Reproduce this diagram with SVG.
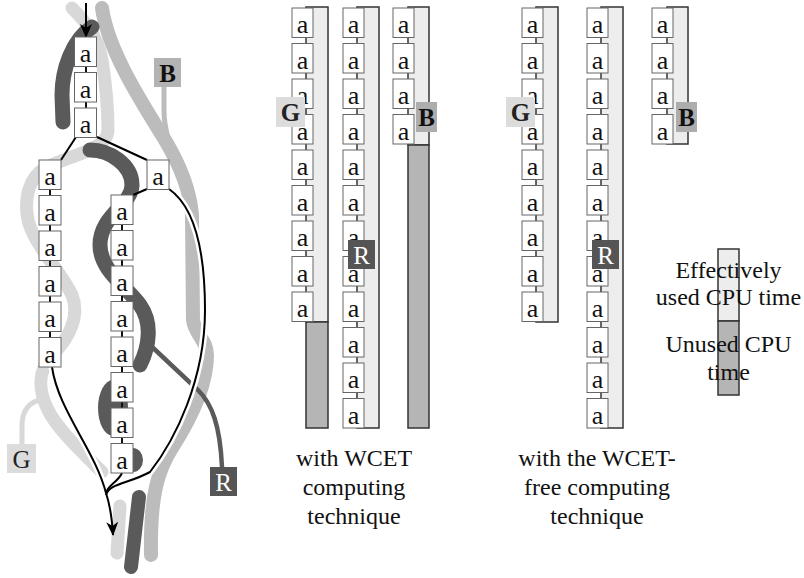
<svg xmlns="http://www.w3.org/2000/svg" width="804" height="578" viewBox="0 0 804 578">
<style>
.box{fill:#fff;stroke:#666;stroke-width:1}
.a{font-family:"Liberation Serif",serif;font-size:26px;text-anchor:middle;fill:#111}
.bar{fill:#ededed;stroke:#333;stroke-width:1.5}
.unused{fill:#b5b5b5;stroke:#333;stroke-width:1.5}
.tick{stroke:#111;stroke-width:2}
.bg{fill:none;stroke:#d8d8d8;stroke-width:13;stroke-linecap:round}
.bb{fill:none;stroke:#bcbcbc;stroke-width:14;stroke-linecap:round}
.br{fill:none;stroke:#5a5a5a;stroke-width:15;stroke-linecap:round}
.halo{fill:none;stroke:#fff;stroke-width:7}
.edge{fill:none;stroke:#000;stroke-width:2}
.lbl{font-family:"Liberation Serif",serif;font-size:25px;text-anchor:middle}
.cap{font-family:"Liberation Serif",serif;font-size:24px;text-anchor:middle;fill:#111}
</style>
<defs>
<marker id="ah" viewBox="0 0 14 14" markerWidth="14" markerHeight="14" refX="13" refY="7" orient="auto" markerUnits="userSpaceOnUse">
<path d="M0,1 L14,7 L0,13 L4,7 z" fill="#000"/>
</marker>
</defs>

<g id="threads">
<path class="bg" d="M72,8 C82,18 98,35 102,60 C106,85 108,110 108,130 C108,150 70,155 45,168 C28,178 24,200 28,220 C34,245 60,270 72,295 C80,315 70,338 52,355 C38,370 38,390 48,410 C58,430 82,452 102,472"/>
<path class="bg" d="M120,506 L117,553"/>
<path d="M22,445 L22,425 C22,410 30,402 40,400" fill="none" stroke="#d8d8d8" stroke-width="5"/>
<path class="bb" d="M102,8 C108,50 140,100 165,140 C180,165 190,190 192,215 L193,320 C195,335 207,340 207,355 C207,385 190,420 172,448 C158,470 150,495 151,555"/>
<path d="M164,87 L164,112 C164,122 166,130 168,138" fill="none" stroke="#bcbcbc" stroke-width="5"/>
<path class="br" d="M92,27 C72,40 62,70 62,95 L63,122"/>
<path class="br" d="M90,150 C110,150 132,165 132,185 C132,205 100,215 100,245 C100,270 125,285 140,305 C152,322 150,345 140,365"/>
<ellipse cx="113" cy="408" rx="15" ry="28" fill="#5a5a5a"/>
<ellipse cx="133" cy="460" rx="10" ry="12" fill="#5a5a5a"/>
<path class="br" style="stroke-width:14" d="M139,497 L131,567"/>
<path d="M150,345 L198,390 C212,404 220,425 222,467" fill="none" stroke="#5a5a5a" stroke-width="4.5"/>
</g>

<g id="connectors">
<path class="halo" d="M52,367 C58,410 95,450 106,493"/>
<path class="halo" d="M169,189 C192,205 205,245 205,310 C205,380 175,440 150,472 C128,484 110,483 106,495"/>
<path class="edge" d="M52,367 C58,410 95,450 106,493"/>
<path class="edge" d="M122,473 C118,482 108,485 106,493"/>
<path class="edge" d="M169,189 C192,205 205,245 205,310 C205,380 175,440 150,472 C128,484 110,483 106,495"/>
<path class="edge" d="M106,493 C110,505 112,518 113,535" marker-end="url(#ah)"/>
<path class="edge" d="M86,3 L86,37" marker-end="url(#ah)"/>
<path class="edge" d="M76,137 L61,160"/>
<path class="edge" d="M97,137 L147,160"/>
<path class="edge" d="M147,189 L133,195"/>
<path class="tick" d="M86,66 V73 M86,102 V108 M50,189 V196 M50,225 V231 M50,260 V267 M50,296 V302 M50,331 V338 M122,224 V231 M122,260 V266 M122,295 V302 M122,331 V337 M122,366 V373 M122,402 V408 M122,437 V444"/>
</g>

<g id="tree">
<g id="t1"><rect class="box" x="74.5" y="37" width="22" height="29.5"/><text class="a" x="85.5" y="62">a</text></g>
<g id="t2"><rect class="box" x="74.5" y="72.5" width="22" height="29.5"/><text class="a" x="85.5" y="97.5">a</text></g>
<g id="t3"><rect class="box" x="74.5" y="108" width="22" height="29.5"/><text class="a" x="85.5" y="133">a</text></g>
<g id="tl">
<rect class="box" x="39" y="160" width="22" height="29.5"/><text class="a" x="50" y="185">a</text>
<rect class="box" x="39" y="195.5" width="22" height="29.5"/><text class="a" x="50" y="220.5">a</text>
<rect class="box" x="39" y="231" width="22" height="29.5"/><text class="a" x="50" y="256">a</text>
<rect class="box" x="39" y="266.5" width="22" height="29.5"/><text class="a" x="50" y="291.5">a</text>
<rect class="box" x="39" y="302" width="22" height="29.5"/><text class="a" x="50" y="327">a</text>
<rect class="box" x="39" y="337.5" width="22" height="29.5"/><text class="a" x="50" y="362.5">a</text>
</g>
<g id="tr"><rect class="box" x="147" y="160" width="22" height="29.5"/><text class="a" x="158" y="185">a</text></g>
<g id="tm">
<rect class="box" x="111" y="195" width="22" height="29.5"/><text class="a" x="122" y="220">a</text>
<rect class="box" x="111" y="230.5" width="22" height="29.5"/><text class="a" x="122" y="255.5">a</text>
<rect class="box" x="111" y="266" width="22" height="29.5"/><text class="a" x="122" y="291">a</text>
<rect class="box" x="111" y="301.5" width="22" height="29.5"/><text class="a" x="122" y="326.5">a</text>
<rect class="box" x="111" y="337" width="22" height="29.5"/><text class="a" x="122" y="362">a</text>
<rect class="box" x="111" y="372.5" width="22" height="29.5"/><text class="a" x="122" y="397.5">a</text>
<rect class="box" x="111" y="408" width="22" height="29.5"/><text class="a" x="122" y="433">a</text>
<rect class="box" x="111" y="443.5" width="22" height="29.5"/><text class="a" x="122" y="468.5">a</text>
</g>
<g id="tB"><rect x="154" y="58" width="27" height="29" fill="#b3b3b3"/><text class="lbl" x="167.5" y="82" font-weight="bold" fill="#111">B</text></g>
<g id="tG"><rect x="7" y="444" width="29" height="29" fill="#dcdcdc"/><text class="lbl" x="21.5" y="468" fill="#222">G</text></g>
<g id="tR"><rect x="210" y="467" width="27" height="29" fill="#555"/><text class="lbl" x="223.5" y="491" fill="#fff">R</text></g>
</g>

<g id="wcet">
<g id="c1">
<rect class="bar" x="306" y="7" width="22" height="315"/>
<rect class="unused" x="306" y="322" width="22" height="106"/>
<rect class="box" x="292" y="8" width="21" height="29.5"/><text class="a" x="302.5" y="33">a</text>
<rect class="box" x="292" y="43.5" width="21" height="29.5"/><text class="a" x="302.5" y="68.5">a</text>
<rect class="box" x="292" y="79" width="21" height="29.5"/><text class="a" x="302.5" y="104">a</text>
<rect class="box" x="292" y="114.5" width="21" height="29.5"/><text class="a" x="302.5" y="139.5">a</text>
<rect class="box" x="292" y="150" width="21" height="29.5"/><text class="a" x="302.5" y="175">a</text>
<rect class="box" x="292" y="185.5" width="21" height="29.5"/><text class="a" x="302.5" y="210.5">a</text>
<rect class="box" x="292" y="221" width="21" height="29.5"/><text class="a" x="302.5" y="246">a</text>
<rect class="box" x="292" y="256.5" width="21" height="29.5"/><text class="a" x="302.5" y="281.5">a</text>
<rect class="box" x="292" y="292" width="21" height="29.5"/><text class="a" x="302.5" y="317">a</text>
<rect x="276" y="97" width="29" height="30" fill="#dcdcdc"/><text class="lbl" x="290.5" y="121" font-weight="bold" fill="#222">G</text>
</g>
<g id="c2">
<rect class="bar" x="357" y="7" width="22" height="421"/>
<rect class="box" x="343" y="8" width="21" height="29.5"/><text class="a" x="353.5" y="33">a</text>
<rect class="box" x="343" y="43.5" width="21" height="29.5"/><text class="a" x="353.5" y="68.5">a</text>
<rect class="box" x="343" y="79" width="21" height="29.5"/><text class="a" x="353.5" y="104">a</text>
<rect class="box" x="343" y="114.5" width="21" height="29.5"/><text class="a" x="353.5" y="139.5">a</text>
<rect class="box" x="343" y="150" width="21" height="29.5"/><text class="a" x="353.5" y="175">a</text>
<rect class="box" x="343" y="185.5" width="21" height="29.5"/><text class="a" x="353.5" y="210.5">a</text>
<rect class="box" x="343" y="221" width="21" height="29.5"/><text class="a" x="353.5" y="246">a</text>
<rect class="box" x="343" y="256.5" width="21" height="29.5"/><text class="a" x="353.5" y="281.5">a</text>
<rect class="box" x="343" y="292" width="21" height="29.5"/><text class="a" x="353.5" y="317">a</text>
<rect class="box" x="343" y="327.5" width="21" height="29.5"/><text class="a" x="353.5" y="352.5">a</text>
<rect class="box" x="343" y="363" width="21" height="29.5"/><text class="a" x="353.5" y="388">a</text>
<rect class="box" x="343" y="398.5" width="21" height="29.5"/><text class="a" x="353.5" y="423.5">a</text>
<rect x="348" y="240" width="27" height="29" fill="#555"/><text class="lbl" x="361.5" y="264" fill="#fff">R</text>
</g>
<g id="c3">
<rect class="bar" x="408" y="7" width="21" height="138"/>
<rect class="unused" x="408" y="145" width="21" height="283"/>
<rect class="box" x="393" y="8" width="21" height="29.5"/><text class="a" x="403.5" y="33">a</text>
<rect class="box" x="393" y="43.5" width="21" height="29.5"/><text class="a" x="403.5" y="68.5">a</text>
<rect class="box" x="393" y="79" width="21" height="29.5"/><text class="a" x="403.5" y="104">a</text>
<rect class="box" x="393" y="114.5" width="21" height="29.5"/><text class="a" x="403.5" y="139.5">a</text>
<rect x="416" y="102" width="21" height="30" fill="#adadad"/><text class="lbl" x="426.5" y="126" font-weight="bold" fill="#111">B</text>
</g>
<text class="cap" x="354" y="466">with WCET</text>
<text class="cap" x="354" y="495">computing</text>
<text class="cap" x="354" y="524">technique</text>
</g>

<g id="free">
<g id="c4">
<rect class="bar" x="536" y="7" width="22" height="315"/>
<rect class="box" x="522" y="8" width="21" height="29.5"/><text class="a" x="532.5" y="33">a</text>
<rect class="box" x="522" y="43.5" width="21" height="29.5"/><text class="a" x="532.5" y="68.5">a</text>
<rect class="box" x="522" y="79" width="21" height="29.5"/><text class="a" x="532.5" y="104">a</text>
<rect class="box" x="522" y="114.5" width="21" height="29.5"/><text class="a" x="532.5" y="139.5">a</text>
<rect class="box" x="522" y="150" width="21" height="29.5"/><text class="a" x="532.5" y="175">a</text>
<rect class="box" x="522" y="185.5" width="21" height="29.5"/><text class="a" x="532.5" y="210.5">a</text>
<rect class="box" x="522" y="221" width="21" height="29.5"/><text class="a" x="532.5" y="246">a</text>
<rect class="box" x="522" y="256.5" width="21" height="29.5"/><text class="a" x="532.5" y="281.5">a</text>
<rect class="box" x="522" y="292" width="21" height="29.5"/><text class="a" x="532.5" y="317">a</text>
<rect x="506" y="97" width="29" height="30" fill="#dcdcdc"/><text class="lbl" x="520.5" y="121" font-weight="bold" fill="#222">G</text>
</g>
<g id="c5">
<rect class="bar" x="601" y="7" width="22" height="421"/>
<rect class="box" x="587" y="8" width="21" height="29.5"/><text class="a" x="597.5" y="33">a</text>
<rect class="box" x="587" y="43.5" width="21" height="29.5"/><text class="a" x="597.5" y="68.5">a</text>
<rect class="box" x="587" y="79" width="21" height="29.5"/><text class="a" x="597.5" y="104">a</text>
<rect class="box" x="587" y="114.5" width="21" height="29.5"/><text class="a" x="597.5" y="139.5">a</text>
<rect class="box" x="587" y="150" width="21" height="29.5"/><text class="a" x="597.5" y="175">a</text>
<rect class="box" x="587" y="185.5" width="21" height="29.5"/><text class="a" x="597.5" y="210.5">a</text>
<rect class="box" x="587" y="221" width="21" height="29.5"/><text class="a" x="597.5" y="246">a</text>
<rect class="box" x="587" y="256.5" width="21" height="29.5"/><text class="a" x="597.5" y="281.5">a</text>
<rect class="box" x="587" y="292" width="21" height="29.5"/><text class="a" x="597.5" y="317">a</text>
<rect class="box" x="587" y="327.5" width="21" height="29.5"/><text class="a" x="597.5" y="352.5">a</text>
<rect class="box" x="587" y="363" width="21" height="29.5"/><text class="a" x="597.5" y="388">a</text>
<rect class="box" x="587" y="398.5" width="21" height="29.5"/><text class="a" x="597.5" y="423.5">a</text>
<rect x="592" y="240" width="27" height="29" fill="#555"/><text class="lbl" x="605.5" y="264" fill="#fff">R</text>
</g>
<g id="c6">
<rect class="bar" x="667" y="7" width="21" height="137"/>
<rect class="box" x="652" y="8" width="21" height="29.5"/><text class="a" x="662.5" y="33">a</text>
<rect class="box" x="652" y="43.5" width="21" height="29.5"/><text class="a" x="662.5" y="68.5">a</text>
<rect class="box" x="652" y="79" width="21" height="29.5"/><text class="a" x="662.5" y="104">a</text>
<rect class="box" x="652" y="114.5" width="21" height="29.5"/><text class="a" x="662.5" y="139.5">a</text>
<rect x="676" y="102" width="21" height="30" fill="#adadad"/><text class="lbl" x="686.5" y="126" font-weight="bold" fill="#111">B</text>
</g>
<text class="cap" x="597" y="466">with the WCET-</text>
<text class="cap" x="597" y="495">free computing</text>
<text class="cap" x="597" y="524">technique</text>
</g>

<g id="legend">
<rect class="bar" x="718" y="249" width="21" height="72"/>
<rect class="unused" x="718" y="321" width="21" height="74"/>
<text class="cap" x="728.5" y="278">Effectively</text>
<text class="cap" x="728.5" y="305">used CPU time</text>
<text class="cap" x="728.5" y="352">Unused CPU</text>
<text class="cap" x="728.5" y="380">time</text>
</g>
</svg>
